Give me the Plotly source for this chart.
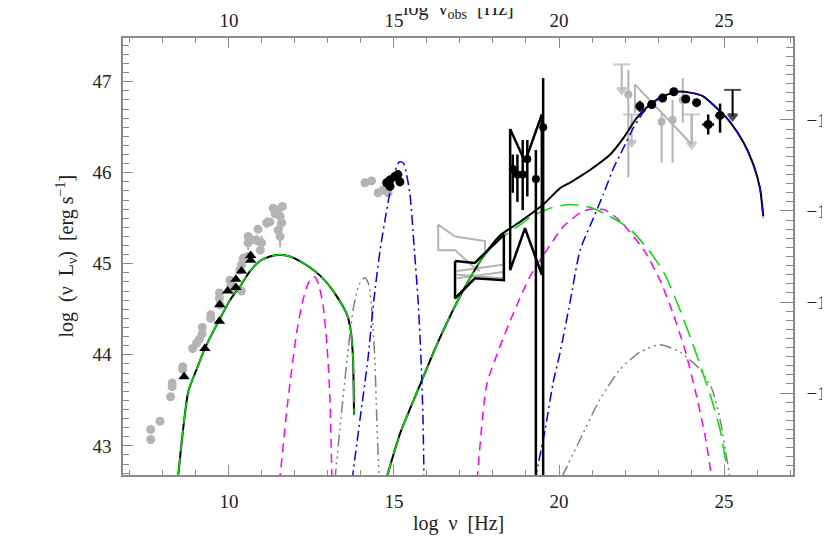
import plotly.graph_objects as go

# ---------------- data (log nu [Hz], log nuLnu [erg/s]) ----------------
# archival radio/mm (gray circles)
radio_gray_x = [7.63, 7.63, 7.91, 8.23, 8.28, 8.28, 8.60, 8.60, 8.90, 9.02, 9.10, 9.19, 9.19,
                9.45, 9.45, 9.71, 9.71, 9.73, 10.03, 10.06, 10.12, 10.38, 10.33, 10.38, 10.43,
                10.58, 10.58, 10.58, 10.69, 10.84, 10.99, 10.88, 10.95, 11.14, 11.24, 11.34,
                11.49, 11.55, 11.60, 11.49, 11.55, 11.40, 11.62]
radio_gray_y = [43.18, 43.07, 43.27, 43.54, 43.69, 43.65, 43.87, 43.84, 44.07, 44.13, 44.17, 44.30, 44.23,
                44.44, 44.40, 44.68, 44.62, 44.55, 44.82, 44.77, 44.71, 44.70, 44.93, 44.99, 45.06,
                45.08, 45.23, 45.30, 45.26, 45.26, 45.23, 45.38, 45.15, 45.45, 45.46, 45.61,
                45.59, 45.52, 45.45, 45.37, 45.30, 45.55, 45.63]
radio_gray_err = [0.05, 0.05, 0.0, 0.0, 0.0, 0.0, 0.0, 0.0, 0.0, 0.0, 0.0, 0.0, 0.0,
                  0.0, 0.0, 0.0, 0.0, 0.0, 0.0, 0.0, 0.0, 0.0, 0.0, 0.0, 0.0,
                  0.0, 0.08, 0.0, 0.0, 0.06, 0.08, 0.0, 0.0, 0.06, 0.0, 0.0,
                  0.0, 0.0, 0.08, 0.10, 0.12, 0.0, 0.0]
# simultaneous radio/mm (black triangles)
radio_blk_x = [8.64, 9.27, 9.71, 9.72, 9.96, 10.21, 10.21, 10.38, 10.66, 10.66]
radio_blk_y = [43.76, 44.07, 44.37, 44.55, 44.70, 44.74, 44.83, 44.92, 45.04, 45.09]
# optical/UV
opt_gray_x = [14.12, 14.32, 14.52, 14.67, 14.82]
opt_gray_y = [45.89, 45.91, 45.78, 45.81, 45.78]
opt_blk_x = [14.78, 14.88, 15.03, 15.12, 15.18, 14.88]
opt_blk_y = [45.89, 45.92, 45.96, 45.98, 45.90, 45.85]
# X-ray points
xr_x = [18.60, 18.74, 18.90, 19.04, 19.30, 19.52]
xr_y = [46.04, 45.98, 45.98, 46.15, 45.93, 46.50]
xr_up = [0.16, 0.22, 0.38, 0.21, 0.32, 0.54]
xr_dn = [0.26, 0.30, 0.39, 0.41, 4.0, 4.0]
# X-ray bowties (black)
bt1_x = [16.85, 17.45, 18.33, 18.33, 17.45, 16.85, 16.85]
bt1_y = [45.03, 45.01, 45.32, 44.82, 44.84, 44.62, 45.03]
bt2_x = [18.52, 18.97, 19.48, 19.48, 18.97, 18.52, 18.52]
bt2_y = [46.48, 46.12, 46.64, 44.88, 45.39, 44.93, 46.48]
# X-ray archival (gray)
gxr_x = [17.76, 17.76, 16.85, 16.34, 16.34, 16.85, 17.40, 17.60]
gxr_y = [45.14, 45.25, 45.30, 45.43, 45.15, 45.15, 44.97, 44.92]
gxl_x0 = [16.90, 16.90, 16.90]
gxl_y0 = [44.92, 44.84, 44.88]
gxl_x1 = [18.31, 18.31, 18.31]
gxl_y1 = [44.99, 44.91, 44.84]
# gamma-ray (black)
gam_x = [22.45, 22.81, 23.14, 23.48, 23.84, 24.17, 24.52, 24.88]
gam_y = [46.73, 46.75, 46.82, 46.89, 46.81, 46.77, 46.53, 46.63]
gam_up = [0.06, 0.03, 0.03, 0.03, 0.03, 0.04, 0.11, 0.13]
gam_dn = [0.06, 0.03, 0.03, 0.03, 0.03, 0.04, 0.11, 0.19]
gam_xe = [0.12, 0.12, 0.12, 0.12, 0.12, 0.12, 0.18, 0.15]
gam_ul_x = [25.26]
gam_ul_top = [46.91]
gam_ul_bot = [46.62]
# gamma-ray archival (gray)
ggam_x = [22.10, 23.11, 23.44, 23.75]
ggam_y = [46.86, 46.56, 46.58, 46.80]
ggam_up = [0.27, 0.11, 0.22, 0.24]
ggam_dn = [0.91, 0.45, 0.47, 0.25]
ggam_ul_x = [21.90, 22.20, 24.02]
ggam_ul_top = [47.19, 46.64, 46.64]
ggam_ul_bot = [46.91, 46.33, 46.31]
gbt_x = [22.30, 22.30, 24.02, 24.02]
gbt_y = [46.66, 46.97, 46.31, 46.64]

# model curves
syn_x = [8.45, 8.77, 9.02, 9.27, 9.73, 10.03, 10.33, 10.64, 10.94, 11.24, 11.55, 11.85,
         12.15, 12.45, 12.76, 13.06, 13.36, 13.58, 13.70, 13.76, 13.79]
syn_y = [42.63, 43.60, 43.84, 44.07, 44.40, 44.60, 44.75, 44.92, 45.03, 45.08, 45.10, 45.08,
         45.03, 44.96, 44.87, 44.75, 44.59, 44.44, 44.24, 43.95, 43.34]
tot2_x = [14.76, 15.20, 15.79, 16.19, 16.60, 17.10, 17.71, 18.21, 18.82, 19.52, 20.03, 20.33,
          20.64, 20.94, 21.55, 21.95, 22.35, 22.76, 23.16, 23.57, 23.97, 24.37, 24.78, 25.18,
          25.58, 25.89, 26.09, 26.19]
tot2_y = [42.63, 43.15, 43.67, 44.02, 44.35, 44.71, 45.08, 45.31, 45.46, 45.65, 45.83, 45.89,
          45.96, 46.03, 46.20, 46.38, 46.60, 46.75, 46.84, 46.89, 46.88, 46.84, 46.71, 46.56,
          46.34, 46.09, 45.83, 45.52]
g2_x = [14.76, 15.20, 15.79, 16.19, 16.60, 17.10, 17.71, 18.31, 18.87, 19.17, 19.73, 20.33,
        20.94, 21.55, 22.15, 22.76, 23.21, 23.67, 24.12, 24.58, 24.88, 25.09]
g2_y = [42.63, 43.15, 43.67, 44.02, 44.35, 44.71, 45.08, 45.30, 45.44, 45.52, 45.61, 45.65,
        45.62, 45.52, 45.38, 45.13, 44.88, 44.49, 44.05, 43.56, 43.18, 42.74]
m1_x = [11.53, 11.79, 12.05, 12.24, 12.42, 12.58, 12.70, 12.85, 12.97, 13.06, 13.12]
m1_y = [42.60, 43.51, 44.24, 44.60, 44.80, 44.86, 44.79, 44.55, 44.11, 43.51, 42.62]
m2_x = [17.52, 17.81, 18.21, 18.62, 19.12, 19.63, 20.13, 20.64, 20.94, 21.39, 21.76, 22.15,
        22.61, 23.06, 23.42, 23.82, 24.12, 24.42, 24.64]
m2_y = [42.62, 43.67, 44.09, 44.46, 44.86, 45.15, 45.41, 45.56, 45.60, 45.59, 45.50, 45.35,
        45.13, 44.82, 44.49, 44.05, 43.62, 43.12, 42.62]
gr1_x = [13.21, 13.39, 13.58, 13.76, 13.94, 14.12, 14.24, 14.33, 14.42, 14.48, 14.55]
gr1_y = [42.62, 43.29, 43.95, 44.49, 44.77, 44.85, 44.77, 44.49, 43.95, 43.29, 42.62]
gr2_x = [20.09, 20.64, 21.24, 21.85, 22.45, 23.06, 23.67, 24.27, 24.64, 24.88, 25.09, 25.18]
gr2_y = [42.66, 43.07, 43.51, 43.84, 44.03, 44.11, 44.03, 43.84, 43.62, 43.29, 42.85, 42.66]
b1_x = [13.73, 13.97, 14.21, 14.39, 14.58, 14.78, 14.98, 15.16, 15.28, 15.48, 15.61, 15.73,
        15.82, 15.88, 15.91]
b1_y = [42.62, 43.29, 43.95, 44.60, 45.15, 45.59, 45.96, 46.12, 46.11, 45.78, 45.19, 44.60,
        43.95, 43.29, 42.62]
b2_x = [19.27, 19.58, 19.82, 20.03, 20.33, 20.64, 21.04, 21.34, 21.65, 21.95, 22.25, 22.55,
        22.86, 23.16, 23.57, 23.97, 24.37, 24.78, 25.18, 25.58, 25.89, 26.09, 26.19]
b2_y = [42.62, 43.18, 43.69, 44.02, 44.57, 45.15, 45.50, 45.76, 46.05, 46.27, 46.49, 46.66,
        46.77, 46.84, 46.89, 46.88, 46.84, 46.71, 46.56, 46.34, 46.09, 45.83, 45.50]

# axes
x_range = [6.79, 27.09]
y_range = [42.68, 47.48]
flux_offset = 56.58
x_ticks = [10, 15, 20, 25]
y_ticks = [43, 44, 45, 46, 47]
flux_ticks = [-10, -11, -12, -13]
flux_ticktext = ["\u221210", "\u221211", "\u221212", "\u221213"]

GRAY = "#b4b4b4"
AX = "#8a8a8a"
FONT = "Liberation Serif"

fig = go.Figure()

def ul_trace(xs, tops, bots, color, width):
    for x, t, b in zip(xs, tops, bots):
        fig.add_trace(go.Scatter(x=[x, x], y=[t, b], mode="lines+markers",
                                 line=dict(color=color, width=width),
                                 marker=dict(symbol=["line-ew", "triangle-down"], size=[12, 8],
                                             color=color, line=dict(color=color, width=width)),
                                 hoverinfo="skip"))

# gray archival data
fig.add_trace(go.Scatter(x=radio_gray_x, y=radio_gray_y, mode="markers",
                         marker=dict(symbol="circle", size=9, color=GRAY),
                         error_y=dict(type="data", array=radio_gray_err, color=GRAY, thickness=2, width=0)))
fig.add_trace(go.Scatter(x=opt_gray_x, y=opt_gray_y, mode="markers",
                         marker=dict(symbol="circle", size=9, color=GRAY)))
fig.add_trace(go.Scatter(x=gxr_x, y=gxr_y, mode="lines", line=dict(color=GRAY, width=2)))
for xa, ya, xb, yb in zip(gxl_x0, gxl_y0, gxl_x1, gxl_y1):
    fig.add_trace(go.Scatter(x=[xa, xb], y=[ya, yb], mode="lines", line=dict(color=GRAY, width=2)))
fig.add_trace(go.Scatter(x=gbt_x, y=gbt_y, mode="lines", line=dict(color=GRAY, width=2)))
fig.add_trace(go.Scatter(x=ggam_x, y=ggam_y, mode="markers",
                         marker=dict(symbol="circle", size=8, color=GRAY),
                         error_y=dict(type="data", symmetric=False, array=ggam_up, arrayminus=ggam_dn,
                                      color=GRAY, thickness=2, width=0)))
ul_trace(ggam_ul_x, ggam_ul_top, ggam_ul_bot, GRAY, 2)

# model curves
def curve(xs, ys, color, width, dash):
    fig.add_trace(go.Scatter(x=xs, y=ys, mode="lines",
                             line=dict(color=color, width=width, dash=dash, shape="spline", smoothing=0.6),
                             hoverinfo="skip"))

curve(syn_x, syn_y, "black", 2, "solid")
curve(tot2_x, tot2_y, "black", 2, "solid")
curve(gr1_x, gr1_y, "#808080", 1.5, "12px,4px,2px,4px,2px,4px,2px,4px")
curve(gr2_x, gr2_y, "#808080", 1.5, "12px,4px,2px,4px,2px,4px,2px,4px")
curve(m1_x, m1_y, "#ff00ff", 1.5, "9px,6px")
curve(m2_x, m2_y, "#ff00ff", 1.5, "9px,6px")
curve(syn_x, syn_y, "#00e000", 1.5, "22px,6px")
curve(g2_x, g2_y, "#00e000", 1.5, "18px,8px")
curve(b1_x, b1_y, "#0000ff", 1.5, "10px,4px,2px,4px")
curve(b2_x, b2_y, "#0000ff", 1.5, "10px,4px,2px,4px")

# black data
fig.add_trace(go.Scatter(x=bt1_x, y=bt1_y, mode="lines", line=dict(color="black", width=2.5)))
fig.add_trace(go.Scatter(x=bt2_x, y=bt2_y, mode="lines", line=dict(color="black", width=2.5)))
fig.add_trace(go.Scatter(x=xr_x, y=xr_y, mode="markers",
                         marker=dict(symbol="circle", size=8, color="black"),
                         error_y=dict(type="data", symmetric=False, array=xr_up, arrayminus=xr_dn,
                                      color="black", thickness=2.5, width=0),
                         error_x=dict(type="data", array=[0.08] * len(xr_x), color="black", thickness=2, width=0)))
fig.add_trace(go.Scatter(x=radio_blk_x, y=radio_blk_y, mode="markers",
                         marker=dict(symbol="triangle-up", size=10, color="black")))
fig.add_trace(go.Scatter(x=opt_blk_x, y=opt_blk_y, mode="markers",
                         marker=dict(symbol="circle", size=9, color="black"),
                         error_y=dict(type="data", array=[0.05] * len(opt_blk_x), color="black", thickness=2, width=0)))
fig.add_trace(go.Scatter(x=gam_x, y=gam_y, mode="markers",
                         marker=dict(symbol="circle", size=9, color="black"),
                         error_y=dict(type="data", symmetric=False, array=gam_up, arrayminus=gam_dn,
                                      color="black", thickness=2.5, width=0),
                         error_x=dict(type="data", array=gam_xe, color="black", thickness=2.5, width=0)))
ul_trace(gam_ul_x, gam_ul_top, gam_ul_bot, "black", 2)

# dummy for secondary axes
fig.add_trace(go.Scatter(x=[x_range[0]], y=[y_range[0] - flux_offset], xaxis="x2", yaxis="y2",
                         mode="markers", marker=dict(opacity=0), hoverinfo="skip"))

tickfont = dict(family=FONT, size=19, color="#222")
common = dict(showgrid=False, zeroline=False, showline=True, linecolor=AX, linewidth=1.5,
              ticks="inside", tickcolor=AX, tickwidth=1.2, tickfont=tickfont, automargin=False)

fig.update_layout(
    width=830, height=553,
    margin=dict(l=115, r=45, t=30, b=86, autoexpand=False),
    plot_bgcolor="white", paper_bgcolor="white",
    showlegend=False,
    xaxis=dict(range=x_range, tickmode="array", tickvals=x_ticks, ticklen=10,
               ticklabelstandoff=8,
               minor=dict(dtick=1, tick0=0, ticks="inside", ticklen=5, tickcolor=AX, showgrid=False),
               **common),
    xaxis2=dict(range=x_range, overlaying="x", side="top", anchor="y", tickmode="array",
                tickvals=x_ticks, ticklen=10, ticklabelstandoff=2,
                minor=dict(dtick=1, tick0=0, ticks="inside", ticklen=5, tickcolor=AX, showgrid=False),
                **common),
    yaxis=dict(range=y_range, tickmode="array", tickvals=y_ticks, ticklen=10,
               ticklabelstandoff=6,
               minor=dict(dtick=0.1, tick0=0, ticks="inside", ticklen=6, tickcolor=AX, showgrid=False),
               **common),
    yaxis2=dict(range=[y_range[0] - flux_offset, y_range[1] - flux_offset], overlaying="y",
                side="right", anchor="x", tickmode="array", tickvals=flux_ticks,
                ticktext=flux_ticktext, ticklen=13, ticklabelstandoff=8,
                minor=dict(dtick=0.1, tick0=0, ticks="inside", ticklen=7, tickcolor=AX, showgrid=False),
                **common),
    annotations=[
        dict(text="log  \u03bd  [Hz]", xref="paper", yref="paper", x=0.5, y=-0.11,
             xanchor="center", yanchor="middle", showarrow=False,
             font=dict(family=FONT, size=20, color="#222")),
        dict(text="log  \u03bd<sub>obs</sub>  [Hz]", xref="paper", yref="paper", x=0.5, y=1.066,
             xanchor="center", yanchor="middle", showarrow=False,
             font=dict(family=FONT, size=20, color="#222")),
        dict(text="log  (\u03bd  L<sub>\u03bd</sub>)  [erg s<sup>\u22121</sup>]", xref="paper", yref="paper",
             x=-0.085, y=0.5, textangle=-90, xanchor="center", yanchor="middle", showarrow=False,
             font=dict(family=FONT, size=20, color="#222")),
    ],
)

fig.write_html("out.html")
